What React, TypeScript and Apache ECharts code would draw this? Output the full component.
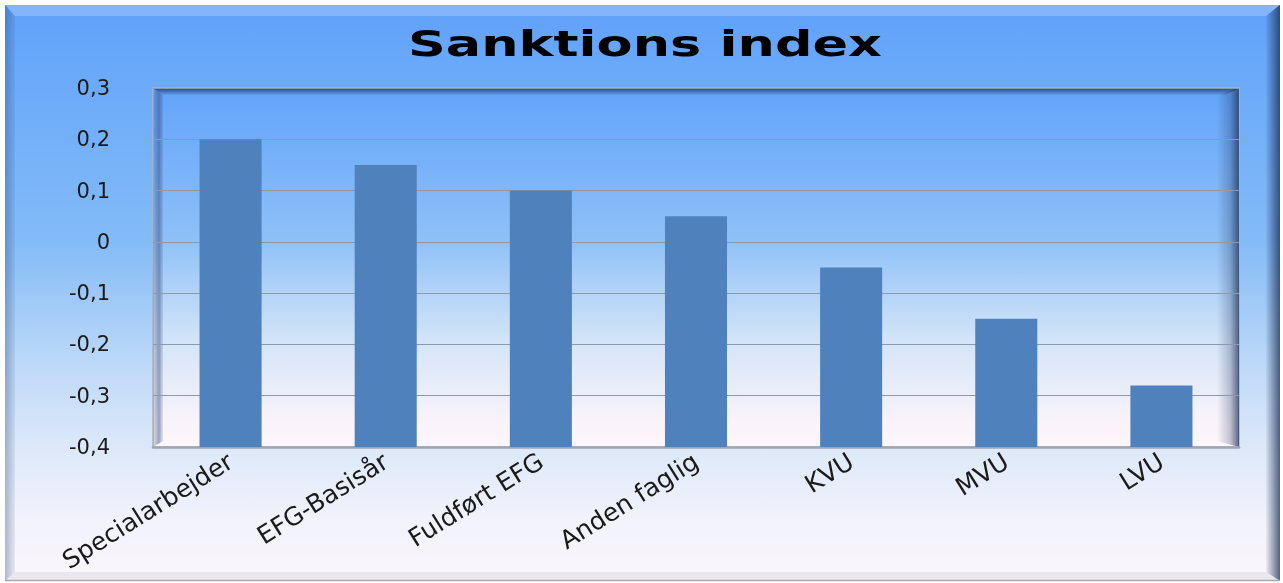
import React, { useEffect, useRef } from "react";
import * as echarts from "echarts";

const categories = ["Specialarbejder", "EFG-Basisår", "Fuldført EFG", "Anden faglig", "KVU", "MVU", "LVU"];
const values = [0.2, 0.15, 0.1, 0.05, -0.05, -0.15, -0.28];
const yMin = -0.4;
const yMax = 0.3;
const yStep = 0.1;
const titleText = "Sanktions index";

const W = 1283;
const H = 583;
const PL = 153, PT = 88, PR = 1239, PB = 447;

function lin(horizontal: boolean, stops: [number, string][]) {
  return new echarts.graphic.LinearGradient(0, 0, horizontal ? 1 : 0, horizontal ? 0 : 1,
    stops.map(([offset, color]) => ({ offset, color })));
}

export default function App() {
  const ref = useRef<HTMLDivElement>(null);
  useEffect(() => {
    if (!ref.current) return;
    const chart = echarts.init(ref.current, null, { renderer: "svg" });
    const option: any = {
      animation: false,
      grid: { left: PL, top: PT, right: W - PR, bottom: H - PB, containLabel: false },
      graphic: [
        { type: "rect", z: -20, silent: true, shape: { x: 0, y: 0, width: W, height: H }, style: { fill: "#ffffff" } },
        {
          type: "rect", z: -19, silent: true, shape: { x: 5, y: 5, width: 1275, height: 576 },
          style: {
            fill: lin(false, [[0, "#5f9ff8"], [0.08, "#67a7fa"], [0.41, "#83bbf7"], [0.62, "#bcd8f8"], [0.77, "#dde9f9"], [0.89, "#f1f2fb"], [1, "#fbf6fb"]]),
          },
        },
        { type: "polygon", z: -18, silent: true, shape: { points: [[5, 5], [1280, 5], [1266, 16], [15, 16]] }, style: { fill: "rgba(255,255,255,0.22)" } },
        { type: "polygon", z: -18, silent: true, shape: { points: [[5, 5], [15, 16], [15, 572], [5, 581]] }, style: { fill: lin(true, [[0, "rgba(40,70,120,0.35)"], [1, "rgba(40,70,120,0.08)"]]) } },
        { type: "polygon", z: -18, silent: true, shape: { points: [[1280, 5], [1266, 16], [1266, 572], [1280, 581]] }, style: { fill: lin(true, [[0, "rgba(20,40,80,0.05)"], [1, "rgba(20,40,80,0.72)"]]) } },
        { type: "polygon", z: -18, silent: true, shape: { points: [[5, 581], [15, 572], [1266, 572], [1280, 581]] }, style: { fill: "rgba(120,120,150,0.12)" } },
        { type: "line", z: -17, silent: true, shape: { x1: 5, y1: 580.5, x2: 1280, y2: 580.5 }, style: { stroke: "#a8a8b4", lineWidth: 1.5 } },
        {
          type: "rect", z: -10, silent: true, shape: { x: PL, y: PT, width: PR - PL, height: PB - PT },
          style: {
            fill: lin(false, [[0, "#62a3fa"], [0.42, "#8ec0f7"], [0.7, "#d2e4f8"], [0.92, "#f8f3fa"], [1, "#fdf6fb"]]),
            stroke: "#aab4c4", lineWidth: 1.5,
          },
        },
        { type: "polygon", z: -9, silent: true, shape: { points: [[PL, PT], [PR, PT], [PR - 13, PT + 7], [PL + 10, PT + 7]] }, style: { fill: lin(false, [[0, "rgba(20,40,80,0.75)"], [1, "rgba(20,40,80,0.05)"]]) } },
        { type: "polygon", z: -9, silent: true, shape: { points: [[PL, PT], [PL + 10, PT + 7], [PL + 10, PB - 6], [PL, PB]] }, style: { fill: lin(true, [[0, "rgba(60,80,120,0.15)"], [0.6, "rgba(40,60,110,0.45)"], [1, "rgba(40,60,110,0.1)"]]) } },
        { type: "polygon", z: -9, silent: true, shape: { points: [[PR, PT], [PR - 22, PT + 7], [PR - 22, PB - 6], [PR, PB]] }, style: { fill: lin(true, [[0, "rgba(20,40,80,0)"], [0.6, "rgba(20,40,80,0.25)"], [1, "rgba(20,40,80,0.7)"]]) } },
        {
          type: "text", z: 10, x: 645, y: 44, scaleX: 1.5, scaleY: 1,
          style: {
            text: titleText, font: 'bold 35px "DejaVu Sans"', fill: "#000000",
            align: "center", verticalAlign: "middle", textAlign: "center", textVerticalAlign: "middle",
          },
        },
      ],
      xAxis: {
        type: "category",
        data: categories,
        axisLine: { show: true, onZero: false, lineStyle: { color: "#a0a4b4", width: 2.5 } },
        axisTick: { show: false },
        splitLine: { show: false },
        axisLabel: {
          interval: 0, rotate: 32, margin: 12,
          fontFamily: "DejaVu Sans", fontSize: 25, color: "#1a1a1a",
        },
      },
      yAxis: {
        type: "value",
        min: yMin, max: yMax, interval: yStep,
        axisLine: { show: false },
        axisTick: { show: false },
        splitLine: { show: true, lineStyle: { color: "#8c98ac", width: 1 } },
        axisLabel: {
          margin: 43, fontFamily: "DejaVu Sans", fontSize: 21, color: "#1a1a1a",
          formatter: (v: number) => String(Number(v.toFixed(1))).replace(".", ","),
        },
      },
      series: [
        {
          type: "custom",
          data: values.map((v, i) => [i, v]),
          encode: { x: 0, y: 1 },
          renderItem: (params: any, api: any) => {
            const idx = api.value(0);
            const val = api.value(1);
            const top = api.coord([idx, val]);
            const base = api.coord([idx, yMin]);
            const bw = api.size([1, 0])[0] * 0.4;
            return {
              type: "rect",
              shape: { x: top[0] - bw / 2, y: top[1], width: bw, height: base[1] - top[1] },
              style: { fill: "#4f81bd" },
            };
          },
        },
      ],
    };
    chart.setOption(option);
    return () => chart.dispose();
  }, []);
  return <div ref={ref} style={{ position: "fixed", left: 0, top: 0, width: W, height: H }} />;
}
